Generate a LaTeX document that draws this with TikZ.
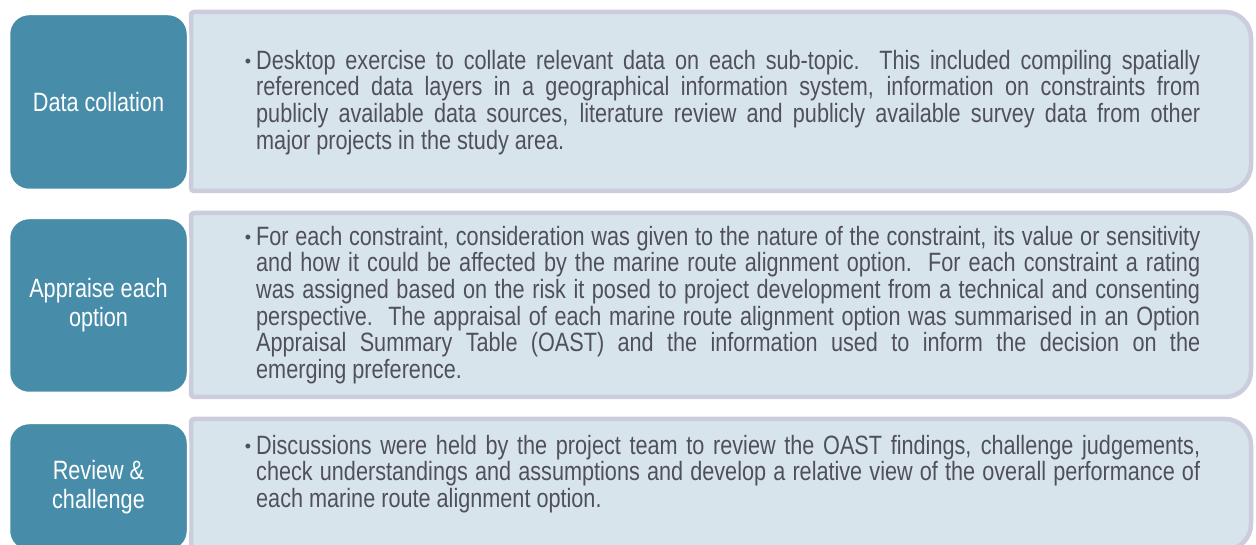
\documentclass[tikz,border=0pt]{standalone}
\usepackage{fontspec}
\setmainfont{Liberation Sans}[FakeStretch=0.817]
\newfontfamily\bulfont{Liberation Sans}
\definecolor{teal1}{HTML}{478DAA}
\definecolor{panfill}{HTML}{D8E4EC}
\definecolor{panline}{HTML}{CBCCDC}
\definecolor{txt}{HTML}{505058}
\newcommand\jl[1]{\makebox[944pt][s]{#1}}
\newcommand\bul{\llap{\raisebox{2pt}{\bulfont\fontsize{18}{18}\selectfont\textbullet}\hspace{5pt}}\rule{0pt}{20pt}}
\newcommand\mypanel[2]{\path[panelbox] (194,#1) -- (1225,#1) arc[start angle=90,end angle=0,radius=26pt] -- (1251,{#2+26}) arc[start angle=0,end angle=-90,radius=26pt] -- (194,#2) arc[start angle=270,end angle=180,radius=3pt] -- (191,{#1-3}) arc[start angle=180,end angle=90,radius=3pt] -- cycle;}
\tikzset{
  panelbox/.style={draw=panline, fill=panfill, line width=4.5pt},
  tealbox/.style={draw=white, fill=teal1, line width=2.5pt, rounded corners=20pt,
    minimum width=179pt, text=white, align=center, inner sep=0pt,
    font=\fontsize{26.5}{29}\selectfont},
  bodytext/.style={anchor=north west, inner sep=0pt, align=left, text=txt,
    font=\fontsize{26.5}{26.7}\selectfont}
}
\begin{document}
\begin{tikzpicture}[x=1pt,y=1pt]
\clip (0,0) rectangle (1256,545);
\fill[white] (0,0) rectangle (1256,545);
% panels
\mypanel{533}{354}
\mypanel{332}{148}
\mypanel{126}{-5}
% left boxes
\node[tealbox, minimum height=176pt] (b1) at (98.5,443) {Data collation};
\node[tealbox, minimum height=175pt] (b2) at (98.5,239.5) {Appraise each\\option};
\node[tealbox, minimum height=128pt] (b3) at (98.5,58) {Review \&\\challenge};
% texts
\node[bodytext] (t1) at (256,496) {%
\jl{\bul Desktop exercise to collate relevant data on each sub-topic.\ \ This included compiling spatially}\\
\jl{referenced data layers in a geographical information system, information on constraints from}\\
\jl{publicly available data sources, literature review and publicly available survey data from other}\\
major projects in the study area.};
\node[bodytext] (t2) at (256,320) {%
\jl{\bul For each constraint, consideration was given to the nature of the constraint, its value or sensitivity}\\
\jl{and how it could be affected by the marine route alignment option.\ \ For each constraint a rating}\\
\jl{was assigned based on the risk it posed to project development from a technical and consenting}\\
\jl{perspective.\ \ The appraisal of each marine route alignment option was summarised in an Option}\\
\jl{Appraisal Summary Table (OAST) and the information used to inform the decision on the}\\
emerging preference.};
\node[bodytext] (t3) at (256,111) {%
\jl{\bul Discussions were held by the project team to review the OAST findings, challenge judgements,}\\
\jl{check understandings and assumptions and develop a relative view of the overall performance of}\\
each marine route alignment option.};
\end{tikzpicture}
\end{document}
